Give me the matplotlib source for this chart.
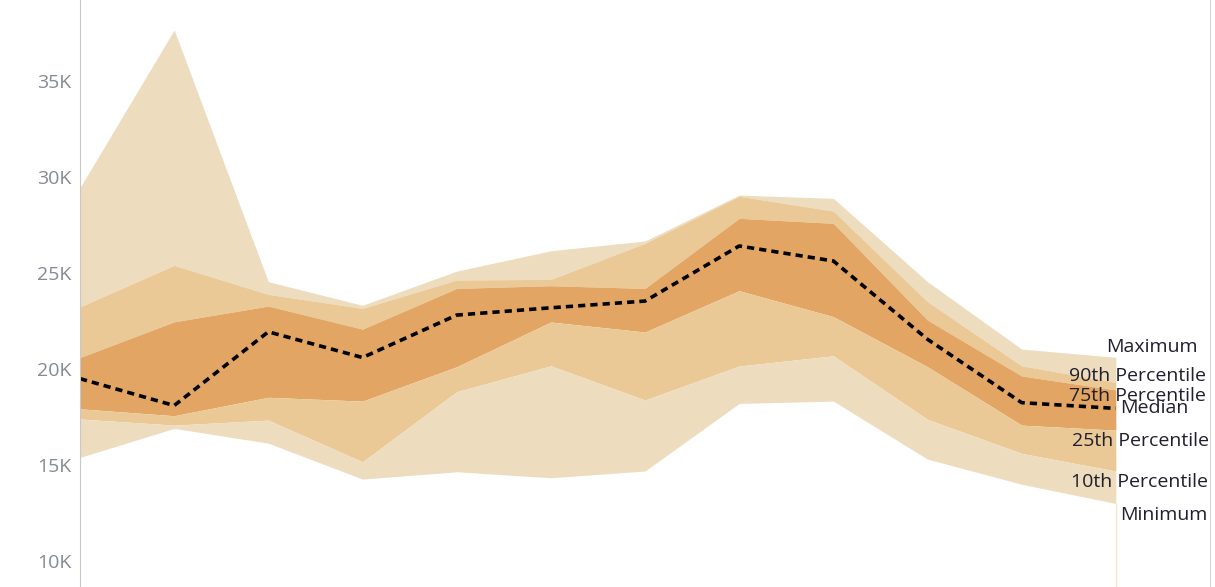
import matplotlib
matplotlib.use("Agg")
import matplotlib.pyplot as plt
from matplotlib.ticker import FuncFormatter
import numpy as np

# one value per period
periods = list(range(12))
maximum = [29450, 37660, 24550, 23320, 25100, 26160, 26670, 29060, 28890, 24550, 21040, 20610]
pct90 = [23240, 25400, 23890, 23160, 24640, 24670, 26550, 29000, 28230, 23510, 20170, 19310]
pct75 = [20600, 22460, 23280, 22080, 24200, 24340, 24200, 27850, 27590, 22550, 19640, 18910]
median = [19500, 18100, 21940, 20600, 22810, 23190, 23540, 26410, 25630, 21550, 18250, 17950]
pct25 = [17930, 17570, 18530, 18330, 20120, 22450, 21930, 24080, 22730, 20120, 17080, 16820]
pct10 = [17400, 17080, 17340, 15170, 18820, 20170, 18390, 20160, 20690, 17380, 15610, 14690]
minimum = [15400, 16910, 16140, 14270, 14650, 14340, 14690, 18210, 18330, 15310, 14000, 13000]

band_names = ["Maximum", "90th Percentile", "75th Percentile", "Median",
              "25th Percentile", "10th Percentile", "Minimum"]

light = "#EDDCBE"
mid = "#EAC996"
dark = "#E2A563"

plt.rcParams['font.family'] = ['Open Sans', 'DejaVu Sans']

fig = plt.figure(figsize=(12.15, 5.87), dpi=100)
ax = fig.add_axes([80 / 1215, 0, 1130 / 1215, 1])

x = np.array(periods)
ax.fill_between(x, pct90, maximum, color=light, lw=0)
ax.fill_between(x, pct75, pct90, color=mid, lw=0)
ax.fill_between(x, pct25, pct75, color=dark, lw=0)
ax.fill_between(x, pct10, pct25, color=mid, lw=0)
ax.fill_between(x, minimum, pct10, color=light, lw=0)
ax.plot(x, median, color="black", lw=2.6, linestyle=(0, (2, 1.4)))

ax.set_xlim(0, 12)
ax.set_ylim(8650, 39220)
ax.vlines(x[-1], 8650, minimum[-1], color="#F6E6CF", lw=1)

# end-of-line labels (Tableau style, nudged like the original)
last = x[-1]
label_pos = [
    (last - 0.10, 21140),
    (last - 0.50, 19640),
    (last - 0.50, 18590),
    (last + 0.05, 17970),
    (last - 0.47, 16250),
    (last - 0.48, 14110),
    (last + 0.05, 12400),
]
for name, (lx, ly) in zip(band_names, label_pos):
    ax.text(lx, ly, name, ha="left", va="center", fontsize=14, color="#1f1f2e")

ax.set_yticks([10000, 15000, 20000, 25000, 30000, 35000])
ax.yaxis.set_major_formatter(FuncFormatter(lambda v, p: f"{int(v / 1000)}K"))
ax.set_xticks([])
ax.tick_params(axis="y", length=0, pad=6, labelsize=14, labelcolor="#848a93")

for s in ["top", "bottom"]:
    ax.spines[s].set_visible(False)
ax.spines["left"].set_color("#c8c8c8")
ax.spines["right"].set_color("#d6d6d6")

fig.savefig("out.png", dpi=100)
